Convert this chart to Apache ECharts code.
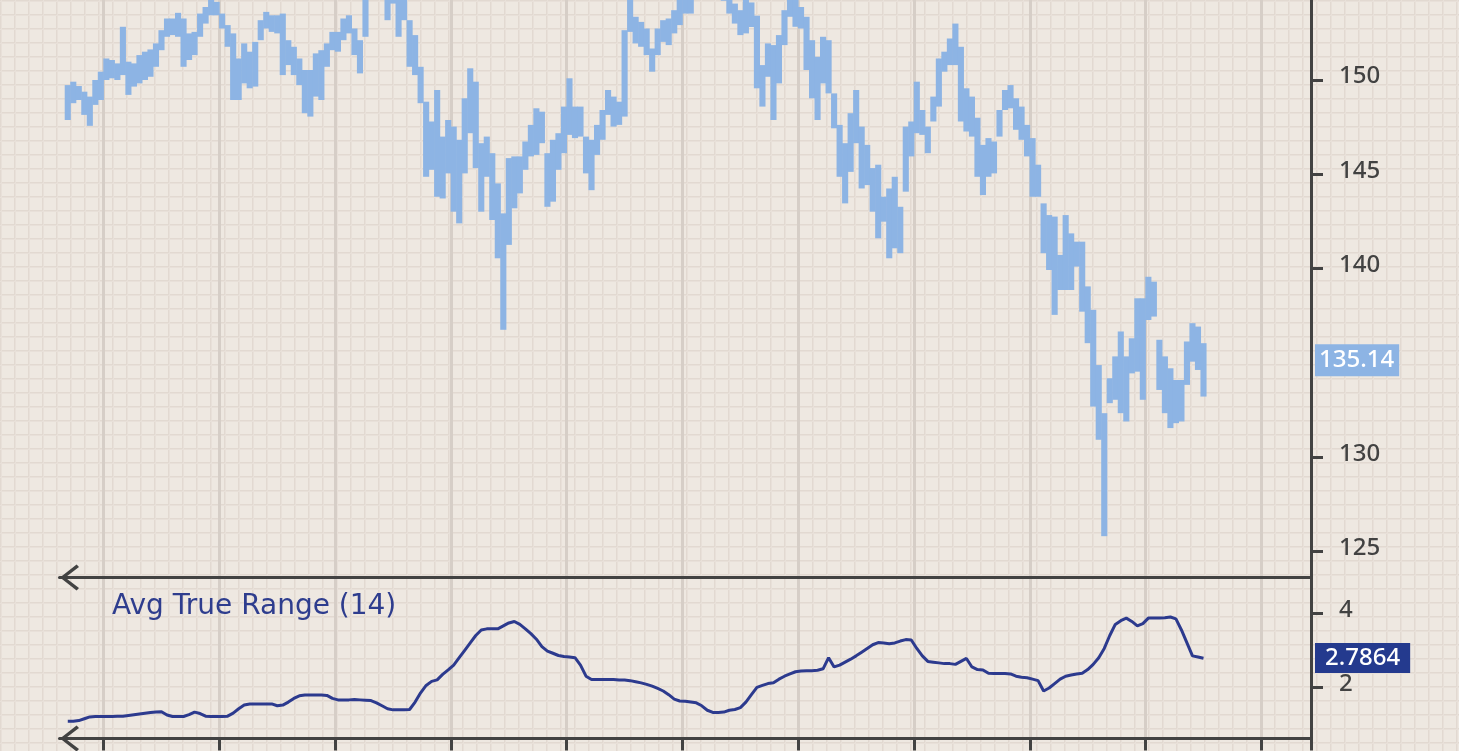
<!DOCTYPE html>
<html><head><meta charset="utf-8">
<script src="https://cdn.jsdelivr.net/npm/echarts@6/dist/echarts.min.js"></script>
<style>html,body{margin:0;padding:0;background:#eee8e1;overflow:hidden}#chart{width:1459px;height:751px}</style>
</head><body><div id="chart"></div>
<script>
// ---- data ----
const priceHigh = [
149.73,149.91,149.68,149.38,149.12,150.00,150.44,151.14,151.06,150.88,
152.82,150.97,150.88,151.32,151.50,151.62,151.94,152.64,153.26,153.26,
153.56,153.26,152.47,152.55,153.52,153.87,154.40,154.14,153.52,152.91,
152.47,151.14,151.94,151.50,152.02,153.17,153.61,153.43,153.43,153.52,
152.11,151.76,151.14,150.53,150.53,151.41,151.58,151.94,152.55,152.55,
153.26,153.43,152.73,152.11,154.50,155.20,155.60,155.00,154.40,154.80,
154.50,154.40,153.17,152.38,150.70,148.85,147.80,149.47,147.00,147.88,
147.53,146.83,149.03,150.62,149.91,146.65,147.00,146.12,144.52,142.93,
145.86,145.95,145.95,146.74,147.62,148.50,148.32,146.12,146.83,147.18,
148.59,150.09,148.59,148.59,147.00,146.83,147.62,148.41,149.47,149.12,
148.85,152.64,154.50,153.35,153.08,152.73,151.67,152.73,153.17,153.26,
153.70,154.30,154.50,154.50,155.00,155.40,155.60,155.30,155.10,154.90,
154.40,154.05,153.70,154.30,154.11,153.41,150.79,151.94,151.85,152.38,
153.70,154.30,154.30,153.87,153.35,152.11,151.23,152.29,152.11,149.29,
147.62,146.65,148.24,149.47,147.53,146.56,145.33,145.51,143.81,144.25,
144.87,143.28,147.53,147.80,149.91,148.41,147.53,149.12,151.14,151.50,
152.20,152.99,151.76,149.56,149.12,148.00,146.56,146.92,146.74,148.41,
149.47,149.73,149.03,148.59,147.62,146.92,145.51,143.46,142.84,142.76,
140.73,142.84,141.87,141.43,141.43,139.06,137.82,134.89,132.34,134.19,
135.35,136.67,135.35,136.31,138.43,138.43,139.57,139.31,136.23,135.35,
134.72,134.10,134.10,136.14,137.11,136.93,136.05
];
const priceLow = [
147.88,148.77,148.94,148.15,147.57,148.68,148.94,150.00,150.09,150.00,
150.26,149.21,149.65,149.82,150.00,150.17,150.70,151.58,152.29,152.38,
152.29,150.70,151.06,151.32,152.29,152.99,153.43,153.43,152.73,151.76,
148.94,148.94,149.82,149.56,149.65,152.11,152.73,152.55,152.47,150.26,
150.79,150.26,149.73,148.24,148.06,149.12,148.94,150.70,151.58,151.50,
152.11,152.47,151.32,150.35,152.29,154.40,154.50,154.30,153.17,154.05,
152.29,153.17,150.70,150.26,148.77,144.87,145.24,143.81,143.72,145.05,
143.02,142.40,145.05,147.18,145.33,143.02,144.87,142.58,140.55,136.76,
141.26,143.20,143.99,145.24,145.95,146.03,146.65,143.28,143.55,145.24,
146.12,147.09,146.92,147.00,145.05,144.16,146.03,146.83,148.15,147.53,
147.62,148.06,152.55,151.94,151.76,151.32,150.44,151.32,152.02,151.85,
152.47,152.91,153.52,153.52,154.30,154.50,154.60,154.40,154.30,154.20,
153.52,152.99,152.38,152.47,152.81,149.56,148.59,150.17,147.88,149.82,
151.85,153.35,152.82,152.73,150.53,149.03,147.88,149.82,149.29,147.44,
144.87,143.46,145.13,146.65,144.25,144.43,143.02,141.61,142.49,140.55,
141.08,140.82,144.08,145.95,147.18,147.09,146.12,147.80,148.59,150.44,
150.79,150.79,147.80,147.27,147.00,144.87,143.90,144.87,145.05,147.00,
148.41,148.50,147.36,146.83,145.95,143.81,143.81,140.82,139.93,137.55,
138.87,138.87,138.87,140.11,137.72,136.05,132.69,130.93,125.82,132.87,
133.05,132.34,131.90,134.45,134.54,133.05,137.28,137.46,133.57,132.34,
131.55,131.81,131.90,133.84,135.07,134.63,133.22
];
const atr = [
1.08,1.08,1.10,1.15,1.20,1.21,1.21,1.21,1.21,1.22,
1.22,1.24,1.26,1.28,1.30,1.32,1.33,1.34,1.25,1.21,
1.21,1.21,1.26,1.33,1.29,1.22,1.21,1.21,1.21,1.22,
1.30,1.42,1.52,1.55,1.55,1.55,1.55,1.55,1.50,1.52,
1.60,1.70,1.77,1.79,1.79,1.79,1.79,1.78,1.70,1.66,
1.66,1.66,1.67,1.66,1.65,1.64,1.58,1.50,1.42,1.39,
1.39,1.39,1.40,1.60,1.85,2.05,2.16,2.20,2.35,2.47,
2.60,2.80,3.00,3.20,3.40,3.55,3.58,3.58,3.58,3.66,
3.74,3.78,3.70,3.58,3.45,3.30,3.10,2.98,2.92,2.86,
2.83,2.82,2.80,2.60,2.30,2.21,2.21,2.21,2.21,2.21,
2.20,2.20,2.18,2.15,2.12,2.08,2.03,1.97,1.90,1.80,
1.68,1.63,1.62,1.60,1.58,1.50,1.38,1.32,1.32,1.33,
1.38,1.40,1.45,1.60,1.80,2.00,2.05,2.10,2.12,2.22,
2.30,2.36,2.42,2.44,2.45,2.45,2.46,2.50,2.80,2.55,
2.60,2.68,2.76,2.85,2.95,3.05,3.15,3.21,3.20,3.18,
3.20,3.25,3.29,3.28,3.05,2.85,2.70,2.68,2.66,2.64,
2.64,2.62,2.70,2.78,2.55,2.48,2.47,2.38,2.37,2.37,
2.37,2.36,2.30,2.27,2.26,2.22,2.18,1.90,1.98,2.10,
2.22,2.30,2.33,2.36,2.38,2.48,2.62,2.80,3.05,3.40,
3.70,3.80,3.87,3.78,3.66,3.72,3.87,3.87,3.87,3.88,
3.90,3.85,3.55,3.20,2.85,2.82,2.7864
];
const lastPrice = 135.14;
const lastAtr = 2.7864;
const priceTicks = [125, 130, 140, 145, 150];
const atrTicks = [2, 4];
const atrTitle = 'Avg True Range (14)';

// ---- layout helpers ----
const leadSlots = 1, tailSlots = 19;
const slotCount = leadSlots + priceHigh.length + tailSlots;
const categories = Array.from({length: slotCount}, (_, i) => 'D' + i);
const monthStart = 8, monthEvery = 21;
const isMonthTick = (i) => i >= monthStart && (i - monthStart) % monthEvery === 0;

const rangeData = priceHigh.map((h, i) => [i + leadSlots, priceLow[i], h]);
const atrData = atr.map((v, i) => [i + leadSlots, v]);

// paper texture
const tile = document.createElement('canvas');
tile.width = 14; tile.height = 14;
const g = tile.getContext('2d');
g.fillStyle = '#eee8e1'; g.fillRect(0, 0, 14, 14);
g.fillStyle = '#e2d9d1'; g.fillRect(0, 0, 14, 1); g.fillRect(0, 0, 1, 14);
g.fillStyle = '#e8e0d9'; g.fillRect(0, 1, 14, 1); g.fillRect(1, 0, 1, 14);

const ink = '#424242';
const barBlue = '#8db4e4';
const chevron = 'path://M13,0 L26,16.6 L23.6,19 L13,5.2 L2.4,19 L0,16.6 Z';
const numFont = 'Noto Sans';

const axisLineStyle = {show: true, onZero: false, lineStyle: {color: ink, width: 3},
  symbol: [chevron, 'none'], symbolSize: [26, 19], symbolOffset: [10, 0]};
const monthSplit = {show: true, interval: isMonthTick, lineStyle: {color: '#d6cec7', width: 3}};
const tickLabel = {show: true, margin: 28, color: ink, fontSize: 24, fontFamily: numFont,
  formatter: '{t|{value}}',
  rich: {t: {color: ink, fontSize: 24, fontWeight: 500, fontFamily: numFont, padding: [0, 0, 7, 0]}}};

function renderRange(params, api) {
  const x = api.value(0);
  const lo = api.coord([x, api.value(1)]);
  const hi = api.coord([x, api.value(2)]);
  const w = api.size([1, 0])[0];
  return {type: 'rect',
    shape: {x: lo[0] - w / 2 - 0.3, y: hi[1], width: w + 0.6, height: Math.max(1, lo[1] - hi[1])},
    style: {fill: barBlue}};
}

const chart = echarts.init(document.getElementById('chart'), null, {renderer: 'canvas'});
chart.setOption({
  animation: false,
  backgroundColor: {image: tile, repeat: 'repeat'},
  title: {text: atrTitle, left: 112, top: 593, padding: 0,
    textStyle: {color: '#2e3d8e', fontSize: 28, fontWeight: 'normal', fontFamily: 'DejaVu Sans'}},
  grid: [
    {left: 59.5, right: 148, top: 0, height: 577.5, outerBoundsMode: 'none', containLabel: false},
    {left: 59.5, right: 148, top: 577.5, height: 161, outerBoundsMode: 'none', containLabel: false}
  ],
  xAxis: [
    {type: 'category', gridIndex: 0, data: categories, boundaryGap: true,
      axisLine: axisLineStyle, axisTick: {show: false}, axisLabel: {show: false}, splitLine: monthSplit},
    {type: 'category', gridIndex: 1, data: categories, boundaryGap: true,
      axisLine: axisLineStyle,
      axisTick: {show: true, interval: isMonthTick, length: 12, lineStyle: {color: ink, width: 3}},
      axisLabel: {show: false}, splitLine: monthSplit}
  ],
  yAxis: [
    {type: 'value', gridIndex: 0, position: 'right', min: 123.63, max: 154.24,
      splitLine: {show: false},
      axisLine: {show: true, lineStyle: {color: ink, width: 3}},
      axisTick: {show: true, length: 12, customValues: priceTicks, lineStyle: {color: ink, width: 3}},
      axisLabel: Object.assign({customValues: priceTicks}, tickLabel)},
    {type: 'value', gridIndex: 1, position: 'right', min: 0.616, max: 4.968,
      splitLine: {show: false},
      axisLine: {show: true, lineStyle: {color: ink, width: 3}},
      axisTick: {show: true, length: 12, customValues: atrTicks, lineStyle: {color: ink, width: 3}},
      axisLabel: Object.assign({customValues: atrTicks}, tickLabel)}
  ],
  series: [
    {type: 'custom', xAxisIndex: 0, yAxisIndex: 0, data: rangeData,
      encode: {x: 0, y: [1, 2]}, renderItem: renderRange, silent: true,
      markLine: {silent: true, symbol: ['none', 'none'], lineStyle: {color: 'transparent', width: 0},
        data: [{yAxis: lastPrice}],
        label: {show: true, position: 'end', distance: 4, formatter: String(lastPrice), color: '#ffffff',
          backgroundColor: barBlue, padding: [5, 5, 3, 4], fontSize: 24, fontWeight: 500, fontFamily: numFont}}},
    {type: 'line', xAxisIndex: 1, yAxisIndex: 1, data: atrData, showSymbol: false, symbol: 'none',
      lineStyle: {color: '#2c3a8e', width: 3}, silent: true,
      markLine: {silent: true, symbol: ['none', 'none'], lineStyle: {color: 'transparent', width: 0},
        data: [{yAxis: lastAtr}],
        label: {show: true, position: 'end', distance: 4, formatter: String(lastAtr), color: '#ffffff',
          backgroundColor: '#243a8e', padding: [3, 10, 3, 10], fontSize: 24, fontWeight: 500, fontFamily: numFont}}}
  ]
});
</script></body></html>
